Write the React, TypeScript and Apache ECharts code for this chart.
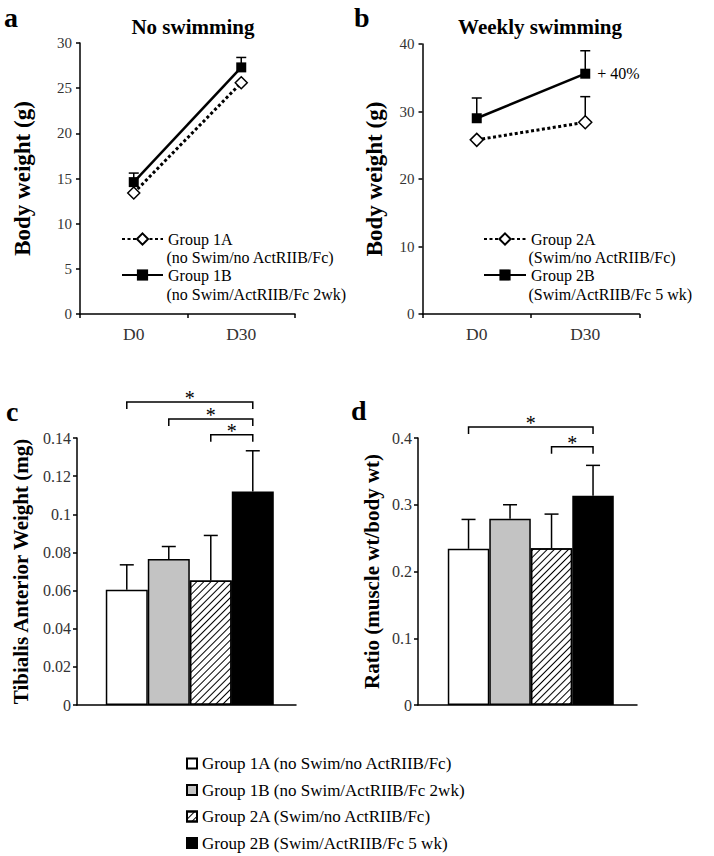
import { useEffect, useRef } from 'react';
import * as echarts from 'echarts';

const FONT = '"Liberation Serif", "Times New Roman", Times, serif';

// Panels a & b: body weight (g)
const days = ['D0', 'D30'];
const group1A = [13.4, 25.6];
const group1B = [14.6, 27.3];
const group1BErrTop = [15.6, 28.4];
const group2A = [25.8, 28.4];
const group2AErrTop: (number | null)[] = [null, 32.2];
const group2B = [29.0, 35.6];
const group2BErrTop = [32.0, 39.0];
const swimGainLabel = '+ 40%';

// Panels c & d
const barGroups = [
  'Group 1A (no Swim/no ActRIIB/Fc)',
  'Group 1B (no Swim/ActRIIB/Fc 2wk)',
  'Group 2A (Swim/no ActRIIB/Fc)',
  'Group 2B (Swim/ActRIIB/Fc 5 wk)',
];
const tibialis = [0.0604, 0.0766, 0.0653, 0.112];
const tibialisErrTop = [0.0735, 0.0831, 0.0889, 0.1333];
const ratio = [0.234, 0.279, 0.235, 0.3135];
const ratioErrTop = [0.278, 0.3, 0.286, 0.359];
// [from bar, to bar, bracket height]
const tibialisSig = [[0, 3, 0.1589], [1, 3, 0.15], [2, 3, 0.1417]];
const ratioSig = [[0, 3, 0.4166], [2, 3, 0.387]];

const GROUP_X = 0.515;

const barStyles = [
  { color: '#ffffff', borderColor: '#000', borderWidth: 1.5 },
  { color: '#c3c3c3', borderColor: '#000', borderWidth: 1.5 },
  {
    color: '#ffffff', borderColor: '#000', borderWidth: 1.5,
    decal: { symbol: 'rect', symbolSize: 1, dashArrayX: [1, 0], dashArrayY: [1, 3.6], rotation: -Math.PI / 4, color: '#000' },
  },
  { color: '#000000', borderColor: '#000', borderWidth: 1.5 },
];

const axisLine = { show: true, lineStyle: { color: '#000', width: 1.5 } };
const axisTick = { show: true, length: 4, inside: false, lineStyle: { color: '#000', width: 1.5 } };

function yAxis(gridIndex: number, max: number, interval: number, name: string, nameGap: number, nameSize: number, fontSize: number, margin: number) {
  return {
    type: 'value', gridIndex, min: 0, max, interval, name, nameLocation: 'middle', nameGap,
    nameTextStyle: { fontFamily: FONT, fontWeight: 'bold', fontSize: nameSize, color: '#000' },
    axisLine, axisTick,
    axisLabel: { fontFamily: FONT, fontSize, color: '#333', margin },
    splitLine: { show: false },
  };
}

function lineErrRender(params: any, api: any) {
  const i = api.value(0);
  const p = api.coord([i, api.value(1)]);
  const e = api.coord([i, api.value(2)]);
  return {
    type: 'group',
    children: [
      { type: 'line', shape: { x1: p[0], y1: p[1], x2: e[0], y2: e[1] }, style: { stroke: '#000', lineWidth: 1.5 } },
      { type: 'line', shape: { x1: e[0] - 5, y1: e[1], x2: e[0] + 5, y2: e[1] }, style: { stroke: '#000', lineWidth: 1.5 } },
    ],
  };
}

function barErrRender(barW: number) {
  return (params: any, api: any) => {
    const i = api.value(0);
    const b = api.coord([GROUP_X, api.value(1)]);
    const e = api.coord([GROUP_X, api.value(2)]);
    const cx = b[0] + (i - 1.5) * barW;
    return {
      type: 'group',
      children: [
        { type: 'line', shape: { x1: cx, y1: b[1], x2: cx, y2: e[1] }, style: { stroke: '#000', lineWidth: 1.5 } },
        { type: 'line', shape: { x1: cx - 7, y1: e[1], x2: cx + 7, y2: e[1] }, style: { stroke: '#000', lineWidth: 1.5 } },
      ],
    };
  };
}

function sigRender(barW: number) {
  return (params: any, api: any) => {
    const p = api.coord([GROUP_X, api.value(2)]);
    const x1 = p[0] + (api.value(0) - 1.5) * barW;
    const x2 = p[0] + (api.value(1) - 1.5) * barW;
    const y = p[1];
    return {
      type: 'group',
      children: [
        {
          type: 'polyline',
          shape: { points: [[x1, y + 7], [x1, y], [x2, y], [x2, y + 7]] },
          style: { stroke: '#000', fill: 'none', lineWidth: 1.5 },
        },
        {
          type: 'text',
          style: { text: '*', x: (x1 + x2) / 2, y: y - 4, align: 'center', verticalAlign: 'middle', fontSize: 20, fontFamily: FONT, fill: '#000' },
        },
      ],
    };
  };
}

function txt(text: string, x: number, y: number, fontSize: number, bold = false, align = 'left') {
  return {
    type: 'text', x, y,
    style: { text, fontFamily: FONT, fontSize, lineHeight: fontSize, fontWeight: bold ? 'bold' : 'normal', fill: '#000', align, verticalAlign: 'middle' },
  };
}

export default function App() {
  const ref = useRef<HTMLDivElement>(null);
  useEffect(() => {
    if (!ref.current) return;
    const chart = echarts.init(ref.current, null, { renderer: 'svg' });

    const openDiamond = { color: '#fff', borderColor: '#000', borderWidth: 1.5 };
    const dotted = { color: '#000', width: 3, type: [3, 2.5] };
    const solid = { color: '#000', width: 2.5, type: 'solid' };

    const barSeries = (vals: number[], gridAxis: number, barW: number) =>
      barGroups.map((name, i) => ({
        type: 'bar', name, xAxisIndex: gridAxis, yAxisIndex: gridAxis,
        barWidth: barW, barGap: '0%',
        itemStyle: barStyles[i],
        data: [[GROUP_X, vals[i]]],
        z: 2,
      }));

    const legendTextSmall = { fontFamily: FONT, fontSize: 16, lineHeight: 16, color: '#000' };
    const legendTextBig = { fontFamily: FONT, fontSize: 17, lineHeight: 16, color: '#000' };

    const option: any = {
      animation: false,
      backgroundColor: '#fff',
      grid: [
        { left: 80, top: 43, width: 215, height: 271 },
        { left: 422.5, top: 44, width: 217, height: 270 },
        { left: 77, top: 438, width: 219, height: 267 },
        { left: 418, top: 438, width: 219, height: 267 },
      ],
      xAxis: [0, 1].map((g) => ({
        type: 'category', gridIndex: g, data: days, axisLine, axisTick,
        axisLabel: { fontFamily: FONT, fontSize: 17.5, color: '#333', margin: 11 },
      })).concat([2, 3].map((g) => ({
        type: 'value', gridIndex: g, min: 0, max: 1, axisLine,
        axisTick: { show: false }, axisLabel: { show: false }, splitLine: { show: false },
      })) as any),
      yAxis: [
        yAxis(0, 30, 5, 'Body weight (g)', 46, 23, 15, 8),
        yAxis(1, 40, 10, 'Body weight (g)', 37, 23, 15, 8),
        yAxis(2, 0.14, 0.02, 'Tibialis Anterior Weight (mg)', 46, 21, 16, 6),
        yAxis(3, 0.4, 0.1, 'Ratio (muscle wt/body wt)', 36, 21, 16, 6),
      ],
      legend: [
        {
          data: ['Group 1A', 'Group 1B'], orient: 'vertical', left: 121, top: 231, padding: 0,
          itemWidth: 41, itemHeight: 14, itemGap: 20, itemTextGap: 4, selectedMode: false,
          textStyle: legendTextSmall,
        },
        {
          data: ['Group 2A', 'Group 2B'], orient: 'vertical', left: 483, top: 231, padding: 0,
          itemWidth: 42, itemHeight: 14, itemGap: 20, itemTextGap: 3, selectedMode: false,
          textStyle: legendTextSmall,
        },
        {
          data: barGroups, orient: 'vertical', left: 186, top: 755, height: 100, padding: 0, icon: 'rect',
          itemWidth: 10, itemHeight: 10, itemGap: 9.5, itemTextGap: 4, selectedMode: false,
          textStyle: legendTextBig,
        },
      ],
      graphic: [
        txt('a', 4, 17, 28, true),
        txt('b', 354, 17, 28, true),
        txt('c', 6, 411, 28, true),
        txt('d', 351, 410, 28, true),
        txt('No swimming', 193, 27, 21, true, 'center'),
        txt('Weekly swimming', 540, 27, 21, true, 'center'),
        txt('(no Swim/no ActRIIB/Fc)', 166.5, 257.5, 16),
        txt('(no Swim/ActRIIB/Fc 2wk)', 166.5, 294, 16),
        txt('(Swim/no ActRIIB/Fc)', 528.5, 257.5, 16),
        txt('(Swim/ActRIIB/Fc 5 wk)', 528.5, 294, 16),
      ],
      series: [
        {
          type: 'custom', name: 'err1B', xAxisIndex: 0, yAxisIndex: 0, z: 1,
          renderItem: lineErrRender, encode: { x: 0, y: [1, 2] },
          data: group1B.map((v, i) => [i, v, group1BErrTop[i]]),
        },
        {
          type: 'line', name: 'Group 1A', xAxisIndex: 0, yAxisIndex: 0, data: group1A,
          symbol: 'diamond', symbolSize: 12, itemStyle: openDiamond, lineStyle: dotted, z: 3,
        },
        {
          type: 'line', name: 'Group 1B', xAxisIndex: 0, yAxisIndex: 0, data: group1B,
          symbol: 'rect', symbolSize: 10, itemStyle: { color: '#000' }, lineStyle: solid, z: 4,
        },
        {
          type: 'custom', name: 'err2', xAxisIndex: 1, yAxisIndex: 1, z: 1,
          renderItem: lineErrRender, encode: { x: 0, y: [1, 2] },
          data: group2B.map((v, i) => [i, v, group2BErrTop[i]]).concat(
            group2A.map((v, i) => [i, v, group2AErrTop[i]]).filter((d) => d[2] != null) as any
          ),
        },
        {
          type: 'line', name: 'Group 2A', xAxisIndex: 1, yAxisIndex: 1, data: group2A,
          symbol: 'diamond', symbolSize: 13, itemStyle: openDiamond, lineStyle: dotted, z: 3,
        },
        {
          type: 'line', name: 'Group 2B', xAxisIndex: 1, yAxisIndex: 1,
          data: group2B.map((v, i) => i === group2B.length - 1
            ? { value: v, label: { show: true, formatter: swimGainLabel, position: 'right', distance: 7, fontFamily: FONT, fontSize: 16, color: '#000' } }
            : v),
          symbol: 'rect', symbolSize: 10, itemStyle: { color: '#000' }, lineStyle: solid, z: 4,
        },
        ...barSeries(tibialis, 2, 42),
        {
          type: 'custom', name: 'errC', xAxisIndex: 2, yAxisIndex: 2, z: 3,
          renderItem: barErrRender(42), encode: { x: 0, y: [1, 2] },
          data: tibialis.map((v, i) => [i, v, tibialisErrTop[i]]),
        },
        {
          type: 'custom', name: 'sigC', xAxisIndex: 2, yAxisIndex: 2, z: 3,
          renderItem: sigRender(42), encode: { x: 0, y: 2 },
          data: tibialisSig,
        },
        ...barSeries(ratio, 3, 41.5),
        {
          type: 'custom', name: 'errD', xAxisIndex: 3, yAxisIndex: 3, z: 3,
          renderItem: barErrRender(41.5), encode: { x: 0, y: [1, 2] },
          data: ratio.map((v, i) => [i, v, ratioErrTop[i]]),
        },
        {
          type: 'custom', name: 'sigD', xAxisIndex: 3, yAxisIndex: 3, z: 3,
          renderItem: sigRender(41.5), encode: { x: 0, y: 2 },
          data: ratioSig,
        },
      ],
    };

    chart.setOption(option);
    return () => chart.dispose();
  }, []);

  return <div ref={ref} style={{ position: 'fixed', left: 0, top: 0, width: 714, height: 856, background: '#fff' }} />;
}
